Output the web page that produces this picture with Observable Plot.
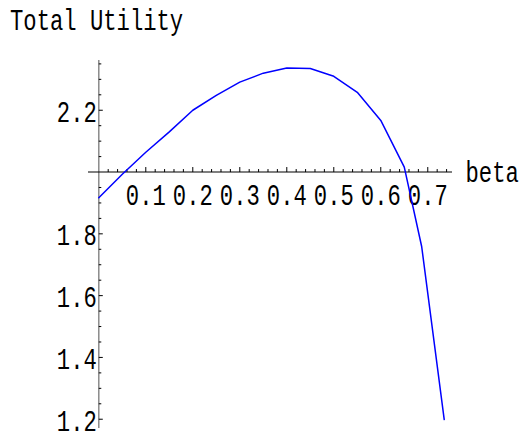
<!DOCTYPE html>
<html><head><meta charset="utf-8">
<script src="https://cdn.jsdelivr.net/npm/d3@7"></script>
<script src="https://cdn.jsdelivr.net/npm/@observablehq/plot@0.6"></script>
<style>
body{margin:0;background:#fff;}
#title{position:relative;height:40px;width:531px;overflow:visible}
#title span{position:absolute;left:10px;top:7px;font-family:"Liberation Mono",monospace;font-size:30px;line-height:30px;transform:scaleX(0.74);transform-origin:0 0;white-space:nowrap;color:#000}
svg{display:block}
</style></head><body>
<div id="title"><span>Total Utility</span></div>
<div id="chart"></div>
<script>
const beta    = [0, 0.05, 0.10, 0.15, 0.20, 0.25, 0.30, 0.35, 0.40, 0.45, 0.50, 0.55, 0.60, 0.65, 0.687, 0.735];
const utility = [1.917, 1.993, 2.064, 2.130, 2.200, 2.248, 2.291, 2.320, 2.337, 2.335, 2.310, 2.258, 2.167, 2.016, 1.759, 1.199];

const xTicks = [0.1, 0.2, 0.3, 0.4, 0.5, 0.6, 0.7];
const xTickLabels = ["0.1", "0.2", "0.3", "0.4", "0.5", "0.6", "0.7"];
const xMinorTicks = [0.02, 0.04, 0.06, 0.08, 0.12, 0.14, 0.16, 0.18, 0.22, 0.24, 0.26, 0.28,
  0.32, 0.34, 0.36, 0.38, 0.42, 0.44, 0.46, 0.48, 0.52, 0.54, 0.56, 0.58, 0.62, 0.64, 0.66, 0.68, 0.72, 0.74];
const yTicks = [1.2, 1.4, 1.6, 1.8, 2.2];
const yTickLabels = ["1.2", "1.4", "1.6", "1.8", "2.2"];
const yMinorTicks = [1.25, 1.3, 1.35, 1.45, 1.5, 1.55, 1.65, 1.7, 1.75, 1.85, 1.9, 1.95,
  2.05, 2.1, 2.15, 2.25, 2.3, 2.35];
const xDomain = [-0.0219, 0.7526];
const yDomain = [1.170, 2.361];
const axisCross = 2.0;
const xLabel = "beta";

const data = beta.map((b, i) => ({beta: b, utility: utility[i]}));

const tickUp = {draw(ctx, size) { const l = Math.sqrt(size / Math.PI); ctx.moveTo(0, 0); ctx.lineTo(0, -l); }};
const tickRight = {draw(ctx, size) { const l = Math.sqrt(size / Math.PI); ctx.moveTo(0, 0); ctx.lineTo(l, 0); }};

const FONT = "Liberation Mono";
const FS = 30;

const chart = Plot.plot({
  width: 531,
  height: 394,
  marginLeft: 88,
  marginRight: 79,
  marginTop: 20,
  marginBottom: 6,
  style: {background: "#fff", overflow: "visible"},
  x: {domain: xDomain, axis: null},
  y: {domain: yDomain, axis: null},
  marks: [
    Plot.ruleX([0], {y1: yDomain[0], y2: yDomain[1], stroke: "#8a8a8a", strokeWidth: 1.5}),
    Plot.ruleY([axisCross], {x1: xDomain[0], x2: xDomain[1], stroke: "#000", strokeWidth: 1.1}),
    Plot.dot(xMinorTicks, {x: d => d, y: () => axisCross, symbol: tickUp, r: 3, stroke: "#000", fill: "none", strokeWidth: 1}),
    Plot.dot(xTicks, {x: d => d, y: () => axisCross, symbol: tickUp, r: 5, stroke: "#000", fill: "none", strokeWidth: 1}),
    Plot.dot(yMinorTicks, {x: () => 0, y: d => d, symbol: tickRight, r: 2.5, stroke: "#000", fill: "none", strokeWidth: 1}),
    Plot.dot(yTicks, {x: () => 0, y: d => d, symbol: tickRight, r: 4, stroke: "#000", fill: "none", strokeWidth: 1}),
    Plot.text(xTicks, {x: d => d, y: () => axisCross, text: (d, i) => xTickLabels[i], dy: 23,
      textAnchor: "middle", lineAnchor: "middle", fontFamily: FONT, fontSize: FS, fill: "#000"}),
    Plot.text(yTicks, {x: () => 0, y: d => d, text: (d, i) => yTickLabels[i], dx: -2, dy: 2,
      textAnchor: "end", lineAnchor: "middle", fontFamily: FONT, fontSize: FS, fill: "#000"}),
    Plot.text([xLabel], {x: () => xDomain[1], y: () => axisCross, text: d => d, dx: 13,
      textAnchor: "start", lineAnchor: "middle", fontFamily: FONT, fontSize: FS, fill: "#000"}),
    Plot.line(data, {x: "beta", y: "utility", stroke: "#0000ff", strokeWidth: 1.5})
  ]
});

// horizontally condense the monospace glyphs, like the original's narrow Courier
chart.querySelectorAll("text").forEach(t => {
  const tr = t.getAttribute("transform") || "";
  const x = t.getAttribute("x") || 0;
  t.removeAttribute("x");
  t.setAttribute("transform", `${tr} translate(${x},0) scale(0.74,1)`);
});

document.getElementById("chart").appendChild(chart);
</script>
</body></html>
